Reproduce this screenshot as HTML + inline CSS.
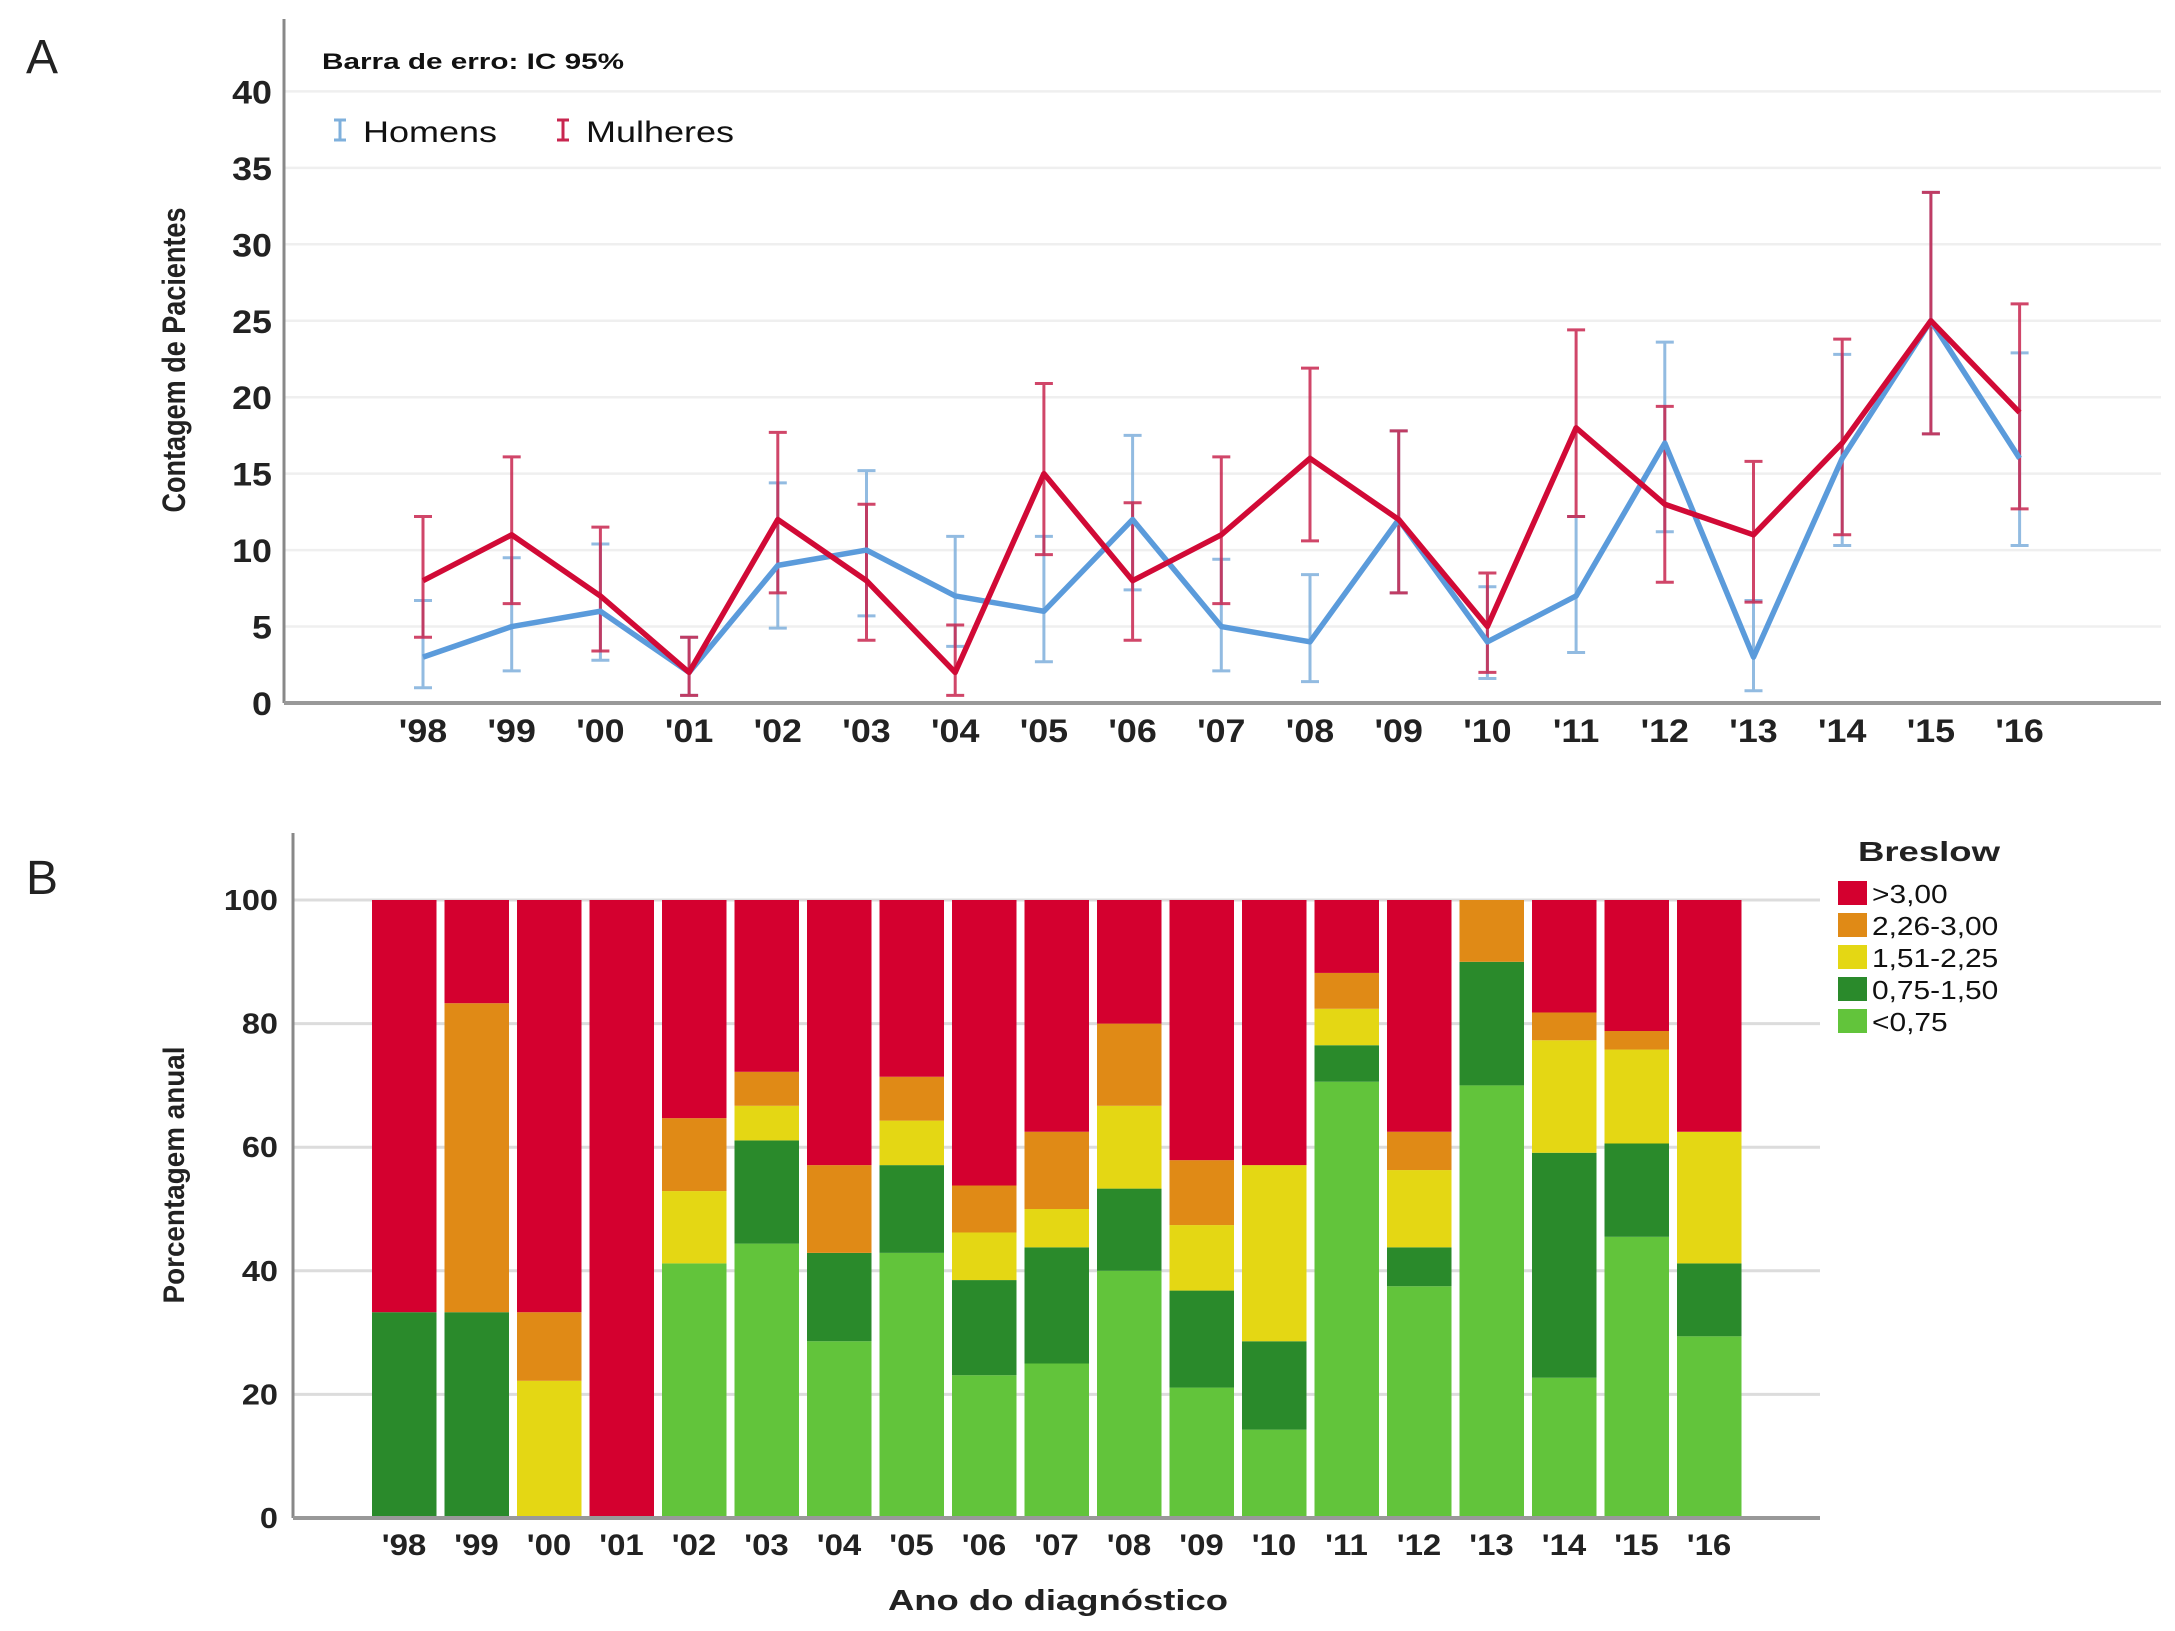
<!DOCTYPE html>
<html><head><meta charset="utf-8"><style>
html,body{margin:0;padding:0;background:#fff;overflow:hidden;}
svg{display:block;font-family:"Liberation Sans",sans-serif;}
</style></head><body>
<svg id="fig" width="2175" height="1631" viewBox="0 0 2175 1631" xmlns="http://www.w3.org/2000/svg">
<g id="panelA"></g>
<g id="panelB"></g>
</svg>
<script>
const years = ["'98","'99","'00","'01","'02","'03","'04","'05","'06","'07","'08","'09","'10","'11","'12","'13","'14","'15","'16"];
const yTicksA = [0,5,10,15,20,25,30,35,40];
const menMean = [3,5,6,2,9,10,7,6,12,5,4,12,4,7,17,3,16,25,16];
const menLo   = [1,2.1,2.8,0.5,4.9,5.7,3.7,2.7,7.4,2.1,1.4,7.2,1.6,3.3,11.2,0.8,10.3,17.6,10.3];
const menHi   = [6.7,9.5,10.4,4.3,14.4,15.2,10.9,10.9,17.5,9.4,8.4,17.8,7.6,12.2,23.6,6.7,22.8,33.4,22.9];
const womenMean = [8,11,7,2,12,8,2,15,8,11,16,12,5,18,13,11,17,25,19];
const womenLo   = [4.3,6.5,3.4,0.5,7.2,4.1,0.5,9.7,4.1,6.5,10.6,7.2,2,12.2,7.9,6.6,11,17.6,12.7];
const womenHi   = [12.2,16.1,11.5,4.3,17.7,13,5.1,20.9,13.1,16.1,21.9,17.8,8.5,24.4,19.4,15.8,23.8,33.4,26.1];

const yTicksB = [0,20,40,60,80,100];
const categoriesB = ["<0,75","0,75-1,50","1,51-2,25","2,26-3,00",">3,00"];
const segLight  = [0,0,0,0,41.2,44.4,28.6,42.9,23.1,25,40,21.1,14.3,70.6,37.5,70,22.7,45.5,29.4];
const segDark   = [33.3,33.3,0,0,0,16.7,14.3,14.2,15.4,18.8,13.3,15.7,14.3,5.9,6.3,20,36.4,15.1,11.8];
const segYellow = [0,0,22.2,0,11.7,5.6,0,7.2,7.7,6.2,13.4,10.6,28.5,5.9,12.5,0,18.2,15.2,21.3];
const segOrange = [0,50,11.1,0,11.8,5.5,14.2,7.1,7.6,12.5,13.3,10.5,0,5.8,6.2,10,4.5,3,0];
const segRed    = [66.7,16.7,66.7,100,35.3,27.8,42.9,28.6,46.2,37.5,20,42.1,42.9,11.8,37.5,0,18.2,21.2,37.5];
const segColors = ["#62c43b","#2a8a2b","#e4d714","#e08a16","#d4002f"];

const NS="http://www.w3.org/2000/svg";
function mk(parent, tag, attrs, text){
  const e=document.createElementNS(NS,tag);
  for(const k in attrs) e.setAttribute(k,attrs[k]);
  if(text!==undefined) e.textContent=text;
  parent.appendChild(e); return e;
}
function txt(parent,x,y,str,size,weight,anchor,sx,color){
  return mk(parent,'text',{x:0,y:0,transform:'translate('+x+','+y+') scale('+sx+',1)','font-size':size,'font-weight':weight,'text-anchor':anchor,fill:color||'#222'},str);
}
// ---------- Panel A ----------
const A=document.getElementById('panelA');
const xA=i=>423+i*88.7;
const yA=v=>703-v*15.29;
let t;
t=txt(A,26,73,'A',48,'normal','start',1.0);


yTicksA.forEach(v=>{
  if(v>0){const g=mk(A,'line',{x1:284,x2:2161,y1:yA(v),y2:yA(v),stroke:'#efefef','stroke-width':2.5});
  
  }
  const l=txt(A,272,yA(v)+12,String(v),32,'bold','end',1.12);
  
  
});
let ax=mk(A,'line',{x1:284,x2:284,y1:19,y2:703,stroke:'#888','stroke-width':3});


ax=mk(A,'line',{x1:284,x2:2161,y1:703,y2:703,stroke:'#999','stroke-width':4});


years.forEach((y,i)=>{
  const l=txt(A,xA(i),742,y,32,'bold','middle',1.12);
  
  
});
t=mk(A,'text',{x:0,y:0,'font-size':32,'font-weight':'bold',fill:'#222','text-anchor':'middle',transform:'translate(185,360) rotate(-90)',textLength:305,lengthAdjust:'spacingAndGlyphs'},'Contagem de Pacientes');


t=mk(A,'text',{x:322,y:69,'font-size':22,'font-weight':'bold',fill:'#111',textLength:302,lengthAdjust:'spacingAndGlyphs'},'Barra de erro: IC 95%');


function errBars(mean,lo,hi,color,name){
  mean.forEach((m,i)=>{
    const x=xA(i);
    const g=mk(A,'g',{stroke:color,'stroke-width':3,opacity:0.85});
    
    
    mk(g,'line',{x1:x,x2:x,y1:yA(lo[i]),y2:yA(hi[i])});
    mk(g,'line',{x1:x-9,x2:x+9,y1:yA(lo[i]),y2:yA(lo[i])});
    mk(g,'line',{x1:x-9,x2:x+9,y1:yA(hi[i]),y2:yA(hi[i])});
  });
}
errBars(menMean,menLo,menHi,'#7fb0dc','homens');
errBars(womenMean,womenLo,womenHi,'#c8264f','mulheres');
let pl=mk(A,'polyline',{points:menMean.map((v,i)=>xA(i)+','+yA(v)).join(' '),fill:'none',stroke:'#5b9bdb','stroke-width':5.5,'stroke-linejoin':'round'});


pl=mk(A,'polyline',{points:womenMean.map((v,i)=>xA(i)+','+yA(v)).join(' '),fill:'none',stroke:'#d10a36','stroke-width':5.5,'stroke-linejoin':'round'});


function legA(x,color,label){
  const g=mk(A,'g',{});
  
  
  const h=mk(g,'g',{stroke:color,'stroke-width':3});
  mk(h,'line',{x1:x,x2:x,y1:120,y2:140}); mk(h,'line',{x1:x-6,x2:x+6,y1:120,y2:120}); mk(h,'line',{x1:x-6,x2:x+6,y1:140,y2:140});
  txt(g,x+23,142,label,30,'normal','start',1.2,'#111');
}
legA(340,'#7fb0dc','Homens');
legA(563,'#c8264f','Mulheres');

// ---------- Panel B ----------
const B=document.getElementById('panelB');
const xB=i=>404+i*72.5;
const yB=v=>1518-v*6.18;
t=txt(B,26,894,'B',48,'normal','start',1.0);


yTicksB.forEach(v=>{
  if(v>0){const g=mk(B,'line',{x1:293,x2:1820,y1:yB(v),y2:yB(v),stroke:'#dcdcdc','stroke-width':3});
  
  }
  const l=txt(B,278,yB(v)+10,String(v),29,'bold','end',1.12);
  
  
});
const segs=[segLight,segDark,segYellow,segOrange,segRed];
years.forEach((y,i)=>{
  let base=0;
  const g=mk(B,'g',{});
  
  
  segs.forEach((arr,k)=>{
    const v=arr[i]; if(v<=0) return;
    mk(g,'rect',{x:xB(i)-32,y:yB(base+v),width:64.5,height:yB(base)-yB(base+v),fill:segColors[k]});
    base+=v;
  });
  const l=txt(B,xB(i),1555,y,30,'bold','middle',1.1);
  
  
});
ax=mk(B,'line',{x1:293,x2:293,y1:833,y2:1518,stroke:'#888','stroke-width':3});


ax=mk(B,'line',{x1:293,x2:1820,y1:1518,y2:1518,stroke:'#999','stroke-width':4});


t=mk(B,'text',{x:0,y:0,'font-size':30,'font-weight':'bold',fill:'#222','text-anchor':'middle',transform:'translate(184,1175) rotate(-90)',textLength:257,lengthAdjust:'spacingAndGlyphs'},'Porcentagem anual');


t=mk(B,'text',{x:1058,y:1610,'font-size':29,'font-weight':'bold',fill:'#222','text-anchor':'middle',textLength:340,lengthAdjust:'spacingAndGlyphs'},'Ano do diagnóstico');


t=mk(B,'text',{x:1858,y:861,'font-size':28,'font-weight':'bold',fill:'#222',textLength:142,lengthAdjust:'spacingAndGlyphs'},'Breslow');


const legOrder=[4,3,2,1,0];
legOrder.forEach((k,j)=>{
  const cy=893+j*32;
  const g=mk(B,'g',{});
  
  
  mk(g,'rect',{x:1838,y:cy-12,width:29,height:24,fill:segColors[k]});
  txt(g,1872,cy+10,categoriesB[k],26,'normal','start',1.15,'#111');
});
</script>
</body></html>
